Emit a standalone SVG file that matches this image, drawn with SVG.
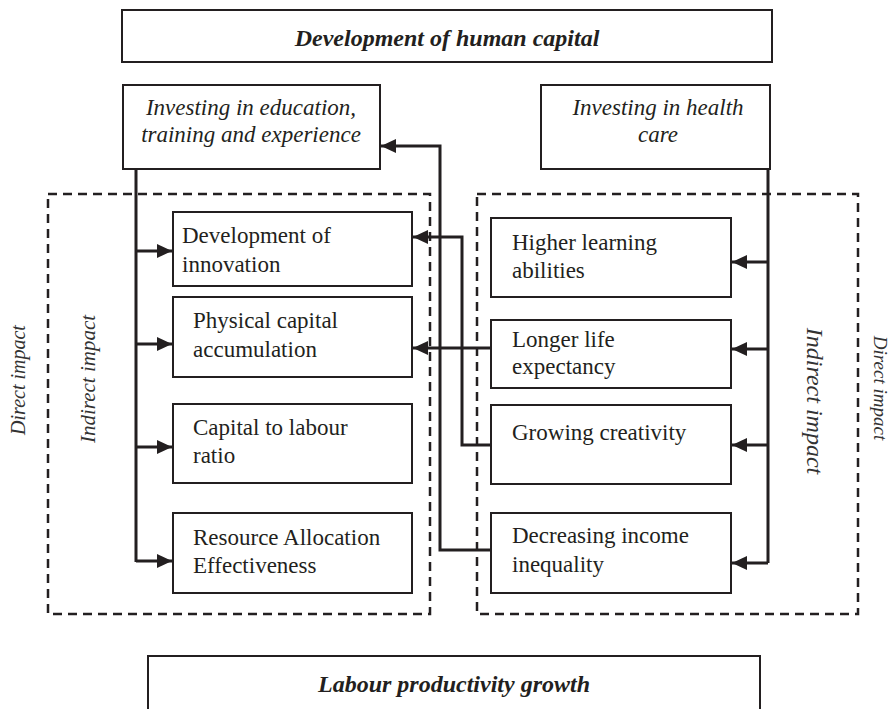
<svg xmlns="http://www.w3.org/2000/svg" width="893" height="709" viewBox="0 0 893 709">
<style>
.box{fill:#fff;stroke:#231f20;stroke-width:2}
.dash{fill:none;stroke:#231f20;stroke-width:2.5;stroke-dasharray:9 6}
.con{fill:none;stroke:#231f20;stroke-width:3}
.t{font-family:"Liberation Serif",serif;font-size:23px;fill:#231f20}
.it{font-style:italic}
.bi{font-style:italic;font-weight:bold;font-size:24px;text-anchor:middle}
.mid{text-anchor:middle}
</style>
<defs>
<marker id="ah" viewBox="0 0 15 14" refX="15" refY="7" markerWidth="15" markerHeight="14" markerUnits="userSpaceOnUse" orient="auto">
<path d="M0,0 L15,7 L0,14 z" fill="#231f20"/>
</marker>
</defs>
<rect width="893" height="709" fill="#fff"/>
<g id="dashed">
<rect class="dash" x="48" y="194" width="382" height="420"/>
<rect class="dash" x="477" y="194" width="381" height="420"/>
</g>
<g id="top"><rect class="box" x="122" y="10" width="650" height="52"/><text class="t bi" x="447" y="46">Development of human capital</text></g>
<g id="edu"><rect class="box" x="123" y="85" width="257" height="84"/><text class="t it mid" x="251" y="115">Investing in education,</text><text class="t it mid" x="251" y="142">training and experience</text></g>
<g id="health"><rect class="box" x="541" y="85" width="229" height="84"/><text class="t it mid" x="658" y="115">Investing in health</text><text class="t it mid" x="658" y="142">care</text></g>
<g id="innovation"><rect class="box" x="173" y="212" width="239" height="74"/><text class="t" x="182" y="243">Development of</text><text class="t" x="182" y="272">innovation</text></g>
<g id="physical"><rect class="box" x="173" y="297" width="239" height="80"/><text class="t" x="193" y="328">Physical capital</text><text class="t" x="193" y="357">accumulation</text></g>
<g id="ratio"><rect class="box" x="173" y="404" width="239" height="79"/><text class="t" x="193" y="435">Capital to labour</text><text class="t" x="193" y="463">ratio</text></g>
<g id="resource"><rect class="box" x="173" y="513" width="239" height="80"/><text class="t" x="193" y="545">Resource Allocation</text><text class="t" x="193" y="573">Effectiveness</text></g>
<g id="learning"><rect class="box" x="491" y="218" width="240" height="79"/><text class="t" x="512" y="250">Higher learning</text><text class="t" x="512" y="278">abilities</text></g>
<g id="life"><rect class="box" x="491" y="320" width="240" height="68"/><text class="t" x="512" y="347">Longer life</text><text class="t" x="512" y="374">expectancy</text></g>
<g id="creativity"><rect class="box" x="491" y="405" width="240" height="79"/><text class="t" x="512" y="440">Growing creativity</text></g>
<g id="inequality"><rect class="box" x="491" y="513" width="240" height="80"/><text class="t" x="512" y="543">Decreasing income</text><text class="t" x="512" y="572">inequality</text></g>
<g id="bottom"><rect class="box" x="148" y="656" width="612" height="60"/><text class="t bi" x="454" y="692">Labour productivity growth</text></g>
<g id="labels" style="font-family:'Liberation Serif',serif;font-style:italic;fill:#333">
<text font-size="20" text-anchor="middle" transform="translate(25,380) rotate(-90)">Direct impact</text>
<text font-size="21" text-anchor="middle" transform="translate(95,379) rotate(-90)">Indirect impact</text>
<text font-size="24" text-anchor="middle" transform="translate(807,401) rotate(90)">Indirect impact</text>
<text font-size="19" text-anchor="middle" transform="translate(874,388) rotate(90)">Direct impact</text>
</g>
<g id="connectors">
<path class="con" d="M136,169 V562"/>
<path class="con" d="M136,251 H172" marker-end="url(#ah)"/>
<path class="con" d="M136,344 H172" marker-end="url(#ah)"/>
<path class="con" d="M136,447 H172" marker-end="url(#ah)"/>
<path class="con" d="M136,561 H172" marker-end="url(#ah)"/>
<path class="con" d="M768,169 V563"/>
<path class="con" d="M768,262 H732" marker-end="url(#ah)"/>
<path class="con" d="M768,349 H732" marker-end="url(#ah)"/>
<path class="con" d="M768,445 H732" marker-end="url(#ah)"/>
<path class="con" d="M768,563 H732" marker-end="url(#ah)"/>
<path class="con" d="M491,550 H440 V146 H381" marker-end="url(#ah)"/>
<path class="con" d="M491,445 H462 V237 H413" marker-end="url(#ah)"/>
<path class="con" d="M491,348 H413" marker-end="url(#ah)"/>
</g>
</svg>
